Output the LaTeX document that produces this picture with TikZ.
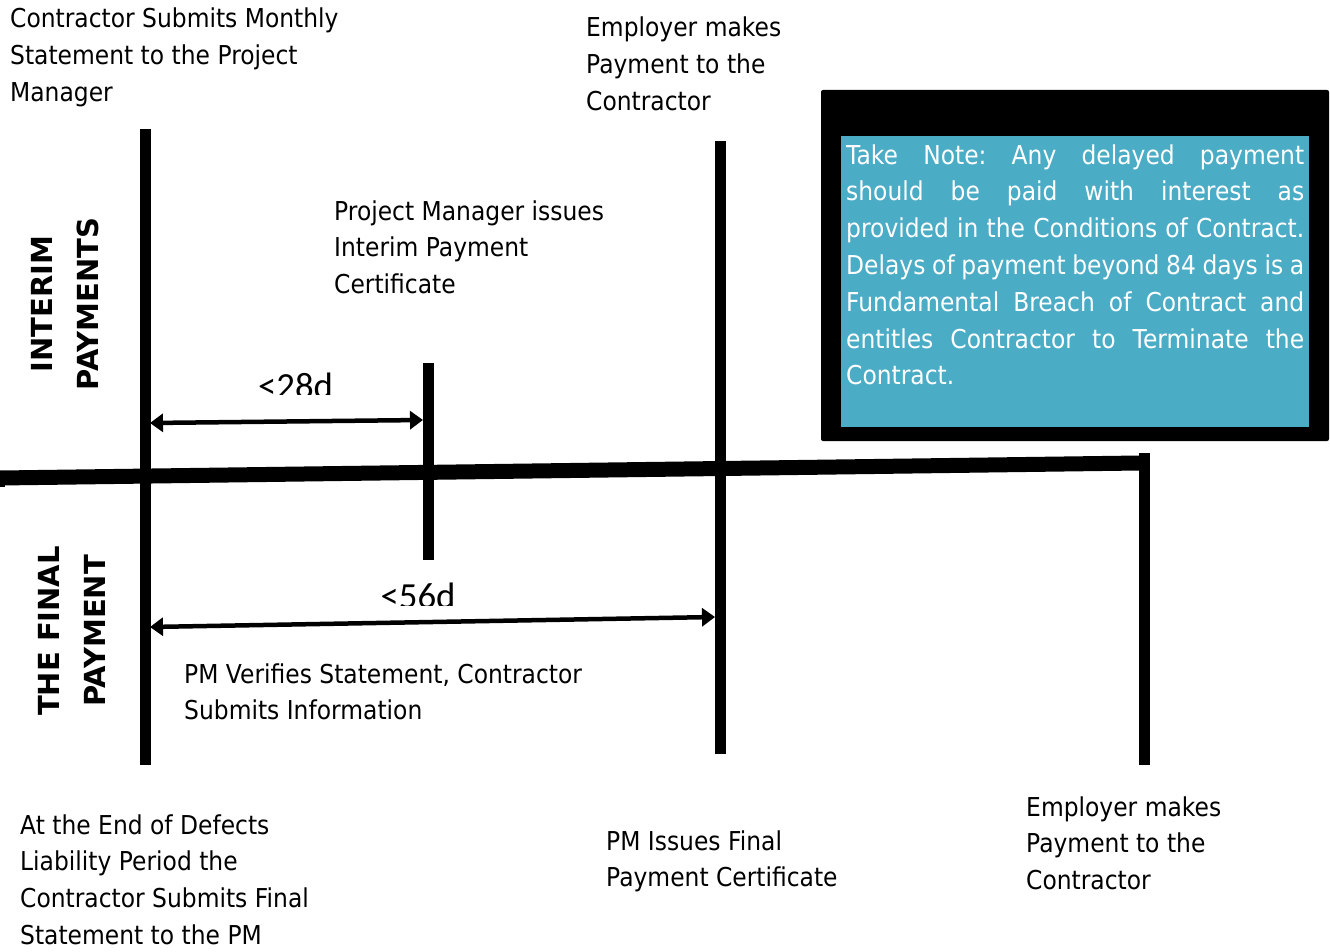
\documentclass[tikz,border=0pt]{standalone}
\usepackage{fontspec}
\setmainfont{DejaVu Sans}[FakeStretch=0.9]
\newfontfamily\boldlab{DejaVu Sans}
\newfontfamily\calib{Carlito}
\usetikzlibrary{arrows.meta}
\definecolor{notecol}{HTML}{4BACC6}
\newcommand\jline[1]{\makebox[458pt][s]{#1}}
\frenchspacing
\begin{document}
\begin{tikzpicture}[x=1pt,y=-1pt,
  lbl/.style={anchor=base west, inner sep=0pt, align=left, font=\fontsize{26}{36.7}\selectfont},
  sidelbl/.style={inner sep=0pt, align=center, rotate=90, font=\boldlab\bfseries\fontsize{29}{46}\selectfont},
  dimlbl/.style={inner sep=0pt, anchor=base, font=\calib\fontsize{36.8}{40}\selectfont},
  bar/.style={line width=11pt},
  mainbar/.style={line width=15pt},
  dim/.style={line width=4.5pt, {Triangle[length=13pt,width=18pt]}-{Triangle[length=13pt,width=18pt]}},
  notetext/.style={anchor=base west, inner sep=0pt, align=left, text=white, font=\fontsize{26}{36.8}\selectfont}
]
\useasboundingbox (0,0) rectangle (1330,952);

% coordinates of the timeline bars
\coordinate (Atop) at (145,129); \coordinate (Abot) at (145,765);
\coordinate (Btop) at (428,363); \coordinate (Bbot) at (428,560);
\coordinate (Ctop) at (720,141); \coordinate (Cbot) at (720,754);
\coordinate (Dtop) at (1144,453); \coordinate (Dbot) at (1144,765);
\coordinate (Hl) at (0,478); \coordinate (Hr) at (1140,463);

\draw[mainbar] (Hl) -- (Hr);
\fill (0,480) rectangle (5,487);
\draw[bar] (Atop) -- (Abot);
\draw[bar] (Btop) -- (Bbot);
\draw[bar] (Ctop) -- (Cbot);
\draw[bar] (Dtop) -- (Dbot);

% dimension arrows
\coordinate (d28l) at (150,423); \coordinate (d28r) at (423,420);
\coordinate (d56l) at (150,627); \coordinate (d56r) at (715,617);
\draw[dim] (d28l) -- (d28r);
\draw[dim] (d56l) -- (d56r);

\begin{scope}
\clip (200,340) rectangle (500,394);
\node[dimlbl] (t28) at (295.5,398) {<28d};
\end{scope}
\begin{scope}
\clip (330,560) rectangle (520,605);
\node[dimlbl] (t56) at (418,608) {<56d};
\end{scope}

% labels (anchor = baseline of last line)
\node[lbl] (n1) at (10,101.4) {Contractor Submits Monthly\\Statement to the Project\\Manager};
\node[lbl] (n2) at (586,110.4) {Employer makes\\Payment to the\\Contractor};
\node[lbl] (n3) at (334,293.4) {Project Manager issues\\Interim Payment\\Certificate};
\node[lbl] (n4) at (184,719.7) {PM Verifies Statement, Contractor\\Submits Information};
\node[lbl] (n5) at (20,944.1) {At the End of Defects\\Liability Period the\\Contractor Submits Final\\Statement to the PM};
\node[lbl] (n6) at (606,886.7) {PM Issues Final\\Payment Certificate};
\node[lbl] (n7) at (1026,889.4) {Employer makes\\Payment to the\\Contractor};

\node[sidelbl] (s1) at (65,304) {INTERIM\\PAYMENTS};
\node[sidelbl] (s2) at (71.5,631) {THE FINAL\\PAYMENT};

% note box
\fill[black, rounded corners=2pt] (821,90) rectangle (1329,441);
\fill[notecol] (841,136) rectangle (1309,427);
\node[notetext] (note) at (846,384.8) {\jline{Take Note: Any delayed payment}\\
\jline{should be paid with interest as}\\
\jline{provided in the Conditions of Contract.}\\
\jline{Delays of payment beyond 84 days is a}\\
\jline{Fundamental Breach of Contract and}\\
\jline{entitles Contractor to Terminate the}\\
Contract.};
\end{tikzpicture}
\end{document}
